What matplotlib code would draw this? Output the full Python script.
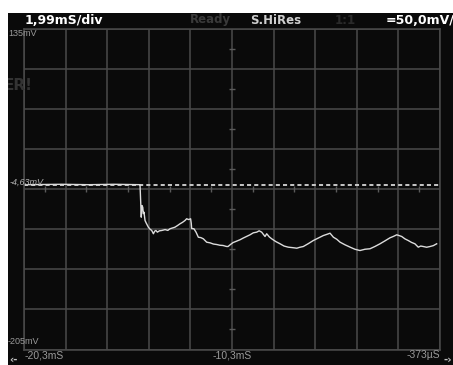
import matplotlib.pyplot as plt
import matplotlib.patches as mpatches
import numpy as np

# screen geometry
W, H = 453, 365
t_left, t_div = -20.3, 1.99          # ms, 10 divisions
v_bottom, v_div = -209.5, 50.0       # mV, 8 divisions

ref_level = -4.63                     # mV, dashed reference

# captured trace (ms, mV)
trace_t = [-20.30, -18.50, -17.20, -16.00, -14.75, -14.69, -14.66, -14.62, -14.59, -14.56,
           -14.51, -14.45, -14.35, -14.27, -14.19, -14.11, -14.05, -13.99, -13.92, -13.82,
           -13.71, -13.55, -13.42, -13.32, -13.20, -13.08, -12.96, -12.84, -12.72, -12.60,
           -12.52, -12.42, -12.33, -12.30, -12.28, -12.17, -12.07, -11.96, -11.84, -11.72,
           -11.56, -11.40, -11.24, -11.08, -10.93, -10.78, -10.62, -10.54, -10.42, -10.30,
           -10.14, -9.97, -9.81, -9.65, -9.49, -9.33, -9.17, -9.05, -8.93, -8.77,
           -8.69, -8.57, -8.45, -8.25, -8.05, -7.86, -7.66, -7.45, -7.25, -7.10,
           -6.94, -6.70, -6.46, -6.22, -5.98, -5.82, -5.66, -5.50, -5.34, -5.18,
           -4.94, -4.70, -4.47, -4.23, -3.99, -3.75, -3.51, -3.27, -3.03, -2.79,
           -2.63, -2.47, -2.35, -2.23, -2.08, -1.92, -1.76, -1.60, -1.44, -1.32,
           -1.20, -1.04, -0.88, -0.72, -0.56]
trace_mv = [-4.0, -3.5, -4.0, -3.5, -4.0, -44.5, -30.0, -32.1, -40.0, -38.3,
            -48.7, -52.0, -57.0, -59.5, -61.1, -65.2, -62.0, -61.1, -63.2, -61.5,
            -61.1, -60.0, -61.0, -59.0, -58.0, -57.0, -55.0, -52.8, -51.0, -48.7,
            -46.5, -47.5, -46.5, -52.0, -58.6, -59.0, -63.2, -69.5, -70.0, -71.5,
            -75.7, -76.5, -78.0, -78.6, -79.5, -79.8, -81.0, -81.1, -78.5, -76.2,
            -74.5, -72.7, -70.5, -68.5, -66.5, -64.0, -63.2, -61.5, -63.2, -68.6,
            -65.2, -69.0, -71.5, -75.0, -77.7, -80.5, -81.9, -82.5, -83.2, -82.0,
            -81.1, -77.5, -73.6, -70.5, -67.4, -66.0, -64.5, -69.5, -72.0, -75.7,
            -79.0, -81.9, -84.5, -86.1, -84.5, -83.9, -81.0, -77.7, -74.0, -70.2,
            -68.5, -66.5, -67.5, -68.6, -71.5, -73.6, -76.0, -77.7, -81.9, -80.5,
            -81.1, -82.0, -81.1, -80.0, -77.7]

header_texts = ["1,99mS/div", "Ready", "S.HiRes", "1:1", "=50,0mV/"]
top_label, bottom_label = "135mV", "-205mV"
time_labels = ["-20,3mS", "-10,3mS", "-373µS"]
ref_label = "-4,63mV"


def fx(px):
    return px / W


def fy(py):
    return 1 - py / H


fig = plt.figure(figsize=(W / 100, H / 100), dpi=100)
fig.patch.set_facecolor('white')

# black instrument panel and white left strip
fig.patches.append(mpatches.Rectangle((fx(8), 0), 1 - fx(8), fy(12.7), transform=fig.transFigure,
                                      facecolor='#0a0a0a', edgecolor='none', zorder=-5))
fig.patches.append(mpatches.Rectangle((0, 0), fx(8), 1, transform=fig.transFigure,
                                      facecolor='white', edgecolor='none', zorder=20))

ax = fig.add_axes([fx(24), fy(349.5), fx(440) - fx(24), fy(28.7) - fy(349.5)])
ax.set_zorder(1)
ax.set_facecolor('#0a0a0a')
xlim = (t_left, t_left + 10 * t_div)
ylim = (v_bottom, v_bottom + 8 * v_div)
ax.set_xlim(*xlim)
ax.set_ylim(*ylim)
ax.set_xticks([t_left + k * t_div for k in range(11)])
ax.set_yticks([v_bottom + k * v_div for k in range(9)])
ax.grid(True, color='#4a4a4a', linewidth=1.1)
ax.tick_params(length=0, labelbottom=False, labelleft=False)
for s in ax.spines.values():
    s.set_color('#4a4a4a')
    s.set_linewidth(1.1)

# half-division marks on the centre lines
t_mid = t_left + 5 * t_div
v_mid = v_bottom + 4 * v_div
half_t = [t_left + (k + 0.5) * t_div for k in range(10)]
half_v = [v_bottom + (k + 0.5) * v_div for k in range(8)]
ax.plot(half_t, [v_mid] * len(half_t), ls='none', marker='|', ms=4.5, mew=1, color='#5a5a5a')
ax.plot([t_mid] * len(half_v), half_v, ls='none', marker='_', ms=4.5, mew=1, color='#5a5a5a')

ax.plot(xlim, [ref_level, ref_level], color='#c8c8c8', lw=1.4, ls=(0, (2.1, 1.6)))
ax.plot(trace_t, trace_mv, color='#dcdcdc', lw=1.0)

# header bar
hy = fy(20)
fig.text(fx(25), hy, header_texts[0], color='white', fontweight='bold', fontsize=9, va='center')
fig.text(fx(190), hy, header_texts[1], color='#3a3a3a', fontweight='bold', fontsize=8.5, va='center')
fig.text(fx(250), hy, header_texts[2], color='#cfcfcf', fontweight='bold', fontsize=8.5, va='center')
fig.text(fx(335), hy, header_texts[3], color='#2a2a2a', fontweight='bold', fontsize=8.5, va='center')
fig.text(fx(386), hy, header_texts[4], color='white', fontweight='bold', fontsize=9, va='center')

small = dict(family='Liberation Sans', color='#9a9a9a', va='center')
fig.text(fx(8), fy(33.5), top_label, fontsize=6.5, zorder=5, **small)
fig.text(fx(8), fy(342), bottom_label, fontsize=6.5, zorder=5, **small)
fig.text(fx(10), fy(182), ref_label, fontsize=6.5, family='Liberation Sans', color='#b0b0b0',
         va='center', style='italic', zorder=5)
fig.text(fx(25), fy(355), time_labels[0], fontsize=7.5, **small)
fig.text(fx(232), fy(355), time_labels[1], fontsize=7.5, ha='center', **small)
fig.text(fx(440), fy(355), time_labels[2], fontsize=7.5, ha='right', **small)
fig.text(fx(9), fy(360), '‹-', fontsize=7.5, fontweight='bold', color='#c0c0c0', va='center')
fig.text(fx(444), fy(360), '-›', fontsize=7.5, fontweight='bold', color='#c0c0c0', va='center')
fig.text(fx(4), fy(85), 'ER!', fontsize=11, fontweight='bold', color='#333333', va='center', zorder=5)

fig.savefig('out.png', dpi=100, facecolor='white')
